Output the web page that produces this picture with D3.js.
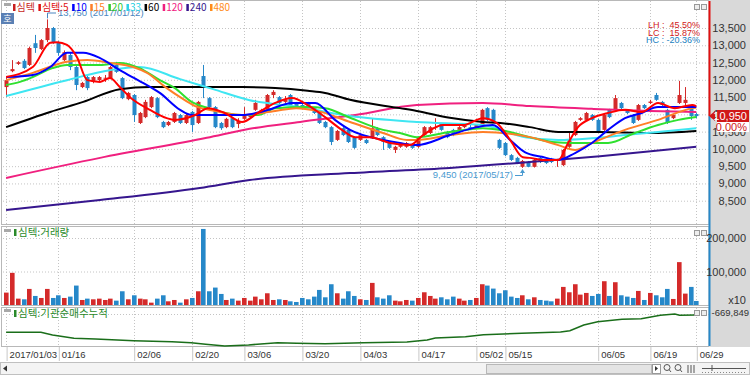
<!DOCTYPE html>
<html>
<head>
<meta charset="utf-8">
<script src="https://cdn.jsdelivr.net/npm/d3@7"></script>
<style>
body { margin: 0; background: #fff; }
svg text { font-family: "Liberation Sans", Arial, sans-serif; }
.kr { font-family: "Noto Sans CJK KR", sans-serif; }
</style>
</head>
<body>
<script>
// ---- data ----
var dateTickIdx = [0, 9, 22, 32, 41, 51, 61, 71, 81, 86, 102, 111, 119];
var dateTickLabels = ["2017/01/03", "01/16", "02/06", "02/20", "03/06", "03/20", "04/03", "04/17", "05/02", "05/15", "06/05", "06/19", "06/29"];

var open = [11790,12250,12460,12550,12430,13060,12890,13150,13500,13090,12570,12720,12370,11790,12080,11940,11990,12040,12050,12430,
  12050,11440,11560,10750,10920,11210,11470,10780,10690,10780,10980,10750,11070,10750,12110,11470,11210,10750,10630,10890,
  10720,10870,10920,11130,11040,11130,11560,11500,11360,11560,11330,11270,11330,11180,11070,10780,10630,10260,10600,10550,
  10320,10260,10260,10320,10600,10340,10170,9970,10060,10060,10140,10060,10400,10460,10610,10720,10490,10550,10550,10630,
  10630,10610,10690,11180,11130,10260,10170,9820,9740,9480,9620,9480,9740,9680,9710,9650,9530,10060,10400,10840,
  10840,10980,10840,10550,11130,11130,11330,11100,10980,10840,11270,11330,11560,11360,11130,10890,11330,11330,11180,11010];
var high = [12050,12570,12540,12600,12960,13300,13180,13750,13530,13120,12850,12780,12400,11940,12110,12110,12110,12140,12400,12520,
  12080,11650,11590,11070,11420,11530,11500,10810,10810,11070,11010,11010,11100,11390,12430,11500,11240,10780,10900,10920,
  10890,11210,11010,11420,11160,11590,11700,11530,11530,11590,11360,11300,11360,11210,11100,10810,10660,10550,10630,10580,
  10350,10430,10290,10870,10630,10370,10200,10090,10140,10200,10170,10350,10660,10660,10890,10750,10520,10580,10660,10720,
  10690,10720,11160,11210,11160,10290,10200,9850,9770,9680,9650,9710,9770,9710,9740,9710,10000,10460,10810,10920,
  11070,11010,10870,11010,11160,11560,11360,11130,11010,11300,11300,11420,11620,11390,11160,11010,11970,11790,11210,11040];
var low = [11500,12220,12430,12310,12400,12780,12860,13090,13040,12700,12540,12280,11700,11760,11700,11900,11960,11940,12020,12200,
  11440,11410,10780,10720,10890,11180,10890,10600,10660,10750,10720,10720,10490,10720,11470,11180,10600,10550,10600,10600,
  10600,10840,10890,11100,11010,11100,11470,11300,11330,11240,11180,11150,11150,11010,10720,10600,10110,10230,10370,10170,
  10000,10230,10140,10290,10370,9970,10000,9880,10030,10030,10000,10030,10370,10430,10550,10520,10310,10370,10520,10600,
  10550,10580,10660,10810,10750,10000,9790,9650,9560,9450,9470,9460,9590,9560,9590,9480,9500,10030,10370,10810,
  10810,10810,10460,10520,10890,11100,11150,11010,10720,10810,11150,11300,11390,11240,10720,10860,11300,11240,10840,10890];
var close = [11990,12310,12510,12340,12920,12920,13150,13500,13090,12780,12800,12370,11850,11910,11760,12080,12080,12060,12370,12230,
  11470,11620,10980,11040,11360,11500,10920,10630,10780,11040,10750,10980,10690,11360,11790,11210,10630,10600,10870,10630,
  10810,10950,10980,11330,11130,11560,11650,11330,11420,11270,11210,11180,11180,11040,10750,10630,10200,10520,10400,10200,
  10030,10400,10170,10600,10400,10200,10030,10060,10110,10170,10030,10320,10630,10630,10630,10550,10340,10400,10630,10690,
  10580,10690,11130,10840,10780,10030,9820,9680,9590,9650,9480,9680,9620,9590,9620,9680,9970,10260,10780,10890,
  11040,10840,10490,10980,10920,11470,11180,11040,10750,11270,11180,11370,11420,11270,10750,10980,11560,11420,10950,10950];
var volume = [37000,96000,19000,17000,48000,27000,21000,48000,21000,29000,21000,25000,58000,15000,19000,17000,19000,15000,19000,13000,
  41000,17000,29000,19000,17000,7000,19000,29000,11000,15000,7000,17000,21000,41000,227000,41000,52000,33000,15000,19000,
  13000,21000,13000,25000,17000,35000,15000,17000,15000,11000,9000,21000,17000,25000,45000,23000,62000,35000,19000,41000,
  27000,17000,15000,66000,23000,19000,29000,13000,11000,15000,13000,21000,38000,27000,19000,23000,17000,25000,19000,13000,
  15000,21000,62000,58000,49000,35000,44000,25000,21000,29000,17000,23000,15000,13000,11000,19000,54000,38000,62000,31000,
  36000,27000,33000,71000,27000,68000,29000,25000,21000,42000,15000,36000,29000,23000,48000,18000,128000,34000,54000,12000];

// moving averages, [day index, price]
var ma5 = [[0,12080],[4.6,12370],[7.6,13070],[8.8,13090],[10.5,13010],[12.2,12660],[14,11990],[16.2,11940],[17.9,12050],[19.6,11790],
  [21.9,11420],[24.8,11130],[27.7,10890],[29.1,10840],[32.6,10980],[34.8,11180],[37.7,11040],[40.7,10780],[43.4,11040],[46.4,11330],
  [49.3,11470],[52,11270],[55,10920],[57.9,10550],[60.2,10340],[62.7,10340],[66.2,10170],[69.6,10110],[71.9,10400],[75.3,10690],
  [78.8,10690],[82.2,10890],[84.6,10750],[86.9,10260],[89.1,9760],[90.3,9740],[92.4,9680],[95.2,9680],[96.9,10170],[98.6,10630],
  [101,10890],[103.8,11040],[106.7,11130],[109.6,11070],[112.4,11330],[115.3,11180],[118.3,11270],[119,11240]];
var ma10 = [[0,12080],[4.6,12140],[7.6,12370],[10.5,12780],[13.3,12780],[16.2,12630],[19.6,12280],[23.6,11910],[26.5,11620],[30,11130],
  [32,10980],[37.7,10980],[40.7,10980],[45.2,11130],[49.3,11330],[53.3,11330],[56.7,10840],[59.3,10550],[65,10260],[67.9,10170],
  [70.8,10110],[76.5,10400],[81.2,10630],[83.9,10690],[86.9,10260],[89.5,9900],[92.4,9770],[95.2,9680],[98.1,9880],[101,10170],
  [103.8,10550],[106.7,10890],[109.6,11040],[112.4,11210],[115.3,11210],[119,11210]];
var ma15 = [[0,11990],[4.6,12200],[10.5,12520],[14,12570],[17.9,12490],[21.9,12370],[24.3,12200],[27.7,11760],[30,11500],[32.6,11240],
  [36,11100],[40.7,10980],[46.4,11100],[50,11180],[53.6,11100],[59.3,10780],[65,10460],[69.1,10260],[70.8,10260],[76.5,10400],
  [82.2,10490],[90.3,10340],[95.2,10110],[98.1,9970],[101,10170],[106.7,10550],[112.4,10840],[118.3,11180],[119,11200]];
var ma20 = [[0,11850],[2.4,11940],[4.6,12080],[8,12340],[10.5,12430],[16.2,12430],[19.6,12490],[23,12340],[26.5,11990],[29.1,11760],
  [32,11360],[34.8,11180],[40.7,10980],[43.4,10980],[46.4,11180],[52,11210],[55,11180],[59.3,10900],[65,10550],[67.9,10460],
  [70.8,10340],[76.5,10490],[82.2,10600],[85.2,10550],[90.3,10340],[94.1,10200],[98.1,10170],[103.8,10170],[108.4,10460],[112.4,10690],
  [115.9,10840],[119,10920]];
var ma33 = [[0,11530],[10.5,11990],[17.9,12280],[23,12370],[30,12020],[35.7,11730],[42,11410],[50.7,11210],[59.3,10950],[70.8,10780],
  [82.2,10690],[89.5,10340],[95.2,10260],[101,10310],[106.7,10400],[112.4,10490],[119,10600]];
var ma60 = [[0,10630],[7.6,11070],[13.3,11360],[19.6,11730],[24.8,11790],[30,11790],[40.7,11790],[46.4,11760],[52,11680],[55,11620],
  [59.3,11420],[67.9,11180],[70.8,11100],[76.5,10900],[82.2,10780],[85.2,10750],[90.3,10630],[95.2,10490],[102.4,10490],[111,10460],[119,10520]];
var ma120 = [[0,9160],[16.2,9740],[34.6,10320],[42,10580],[50.7,10780],[60.2,10980],[70.8,11270],[82.2,11330],[90.3,11240],[101,11160],[111,11100],[119,11070]];
var ma240 = [[0,8230],[16.2,8520],[33.4,8870],[42,9100],[59.3,9300],[76.5,9450],[90.3,9620],[102.4,9790],[119,10060]];

// 기관순매수누적, [day index, shares]
var instCum = [[0,-1535000],[6,-1535000],[8,-1670000],[11.7,-1835000],[15.4,-1870000],[22,-1955000],[28.6,-2005000],[31.9,-2055000],
  [34.4,-2135000],[37.7,-2220000],[41.8,-2170000],[46.8,-2055000],[50.1,-2085000],[55,-2105000],[61.6,-2055000],[69.1,-2020000],
  [72.6,-1920000],[74,-1820000],[79.2,-1755000],[82.3,-1655000],[88.9,-1585000],[95.6,-1520000],[97.2,-1455000],[99.6,-1170000],
  [102,-1005000],[106.2,-885000],[109.5,-855000],[112.8,-685000],[115.3,-620000],[116.1,-685000],[119,-669849]];

var priceTicks = [8500, 9000, 9500, 10000, 10500, 11000, 11500, 12000, 12500, 13000, 13500];
var volumeTicks = [100000, 200000];
var legendNames = ["심텍", "심텍:5", "10", "15", "20", "33", "60", "120", "240", "480"];
var lastPrice = 10950;

// ---- drawing ----
var W = 750, H = 375;
var plotL = 3, plotR = 709, axisR = 746;
var svg = d3.select("body").append("svg").attr("width", W).attr("height", H);

var x = d3.scaleLinear().domain([0, 119]).range([6.1, 696.3]);
var yP = d3.scaleLinear().domain([8500, 13500]).range([200.7, 28]);
var yV = d3.scaleLinear().domain([0, 200000]).range([305, 238]);
var yI = d3.scaleLinear().domain([-2269849, -669849]).range([347, 315]);

var UP = "#d42a2a", DN = "#2688c9";
var lineColors = {ma5: "#ff0000", ma10: "#0000ff", ma15: "#ff7f27", ma20: "#2fe02f", ma33: "#3fe6f2",
  ma60: "#000000", ma120: "#f0207f", ma240: "#36168e"};
var legendColors = ["#c81e1e", "#e01010", "#0000ff", "#ff7f27", "#2fc82f", "#2ad2e6", "#000000", "#f0207f", "#36168e", "#ff8c1a"];

// right axis background
svg.append("rect").attr("x", plotR + 1).attr("y", 0).attr("width", W - plotR).attr("height", 347).attr("fill", "#d9d9d9");

// panel frames
var panels = [[0, 224], [226, 305], [307, 346]];
panels.forEach(function(p) {
  svg.append("rect").attr("x", plotL - 1.5).attr("y", p[0] + 0.5).attr("width", plotR - plotL + 1.5).attr("height", p[1] - p[0])
    .attr("fill", "#fff").attr("stroke", "#b8b8b8");
});

// vertical dotted grid
var vgrid = svg.append("g");
panels.forEach(function(p) {
  vgrid.selectAll(null).data(dateTickIdx).join("line")
    .attr("x1", function(d) { return Math.round(x(d)) + 0.5; })
    .attr("x2", function(d) { return Math.round(x(d)) + 0.5; })
    .attr("y1", p[0] + 1).attr("y2", p[1])
    .attr("stroke", "#c4c4c4").attr("stroke-dasharray", "1,2");
});

// horizontal dotted grid (price and volume)
var pg = svg.append("g").attr("transform", "translate(" + plotL + ",0)")
  .call(d3.axisRight(yP).tickValues(priceTicks).tickSize(plotR - plotL).tickFormat(""));
pg.select(".domain").remove();
pg.selectAll("line").attr("stroke", "#c4c4c4").attr("stroke-dasharray", "1,2");
var vg = svg.append("g").attr("transform", "translate(" + plotL + ",0)")
  .call(d3.axisRight(yV).tickValues(volumeTicks).tickSize(plotR - plotL).tickFormat(""));
vg.select(".domain").remove();
vg.selectAll("line").attr("stroke", "#c4c4c4").attr("stroke-dasharray", "1,2");
svg.append("line").attr("x1", plotL).attr("x2", plotR).attr("y1", 314.5).attr("y2", 314.5)
  .attr("stroke", "#c4c4c4").attr("stroke-dasharray", "1,2");

// clip for price panel
svg.append("clipPath").attr("id", "cp").append("rect").attr("x", plotL).attr("y", 1).attr("width", plotR - plotL).attr("height", 223);
var gP = svg.append("g").attr("clip-path", "url(#cp)");

var days = d3.range(open.length);
function col(i) { return close[i] >= open[i] ? UP : DN; }
function cx(i) { return Math.round(x(i)); }

// candles
gP.append("g").selectAll("line").data(days).join("line")
  .attr("x1", function(i) { return cx(i) + 0.5; }).attr("x2", function(i) { return cx(i) + 0.5; })
  .attr("y1", function(i) { return yP(high[i]); }).attr("y2", function(i) { return yP(low[i]); })
  .attr("stroke", col);
gP.append("g").selectAll("rect").data(days).join("rect")
  .attr("x", function(i) { return cx(i) - 1.5; }).attr("width", 4)
  .attr("y", function(i) { return yP(Math.max(open[i], close[i])); })
  .attr("height", function(i) { return Math.max(1, Math.abs(yP(open[i]) - yP(close[i]))); })
  .attr("fill", col);

// moving averages
var maLine = d3.line().x(function(d) { return x(d[0]); }).y(function(d) { return yP(d[1]); }).curve(d3.curveMonotoneX);
[["ma240", ma240], ["ma120", ma120], ["ma60", ma60], ["ma33", ma33], ["ma20", ma20], ["ma15", ma15], ["ma10", ma10], ["ma5", ma5]]
  .forEach(function(s) {
    gP.append("path").datum(s[1]).attr("d", maLine).attr("fill", "none")
      .attr("stroke", lineColors[s[0]]).attr("stroke-width", 2);
  });

// volume bars
svg.append("g").selectAll("rect").data(days).join("rect")
  .attr("x", function(i) { return cx(i) - 2; }).attr("width", 4.6)
  .attr("y", function(i) { return yV(volume[i]); })
  .attr("height", function(i) { return yV(0) - yV(volume[i]); })
  .attr("fill", col);

// institution cumulative net buy
svg.append("path").datum(instCum)
  .attr("d", d3.line().x(function(d) { return x(d[0]); }).y(function(d) { return yI(d[1]); }))
  .attr("fill", "none").attr("stroke", "#1a6e1a").attr("stroke-width", 1.6);

// plot / axis border line
svg.append("line").attr("x1", plotR + 0.5).attr("x2", plotR + 0.5).attr("y1", 1).attr("y2", yP(lastPrice)).attr("stroke", "#e01010").attr("stroke-width", 2);
svg.append("line").attr("x1", plotR + 0.5).attr("x2", plotR + 0.5).attr("y1", yP(lastPrice)).attr("y2", 346).attr("stroke", "#2688c9").attr("stroke-width", 2);

// right price axis
var pa = svg.append("g").attr("transform", "translate(" + axisR + ",0)")
  .call(d3.axisLeft(yP).tickValues(priceTicks).tickSize(0).tickPadding(0).tickFormat(d3.format(",")));
pa.select(".domain").remove();
pa.selectAll("text").attr("font-size", 11).attr("fill", "#333").style("font-family", "Liberation Sans, Arial");

var va = svg.append("g").attr("transform", "translate(" + axisR + ",0)")
  .call(d3.axisLeft(yV).tickValues(volumeTicks).tickSize(0).tickPadding(0).tickFormat(d3.format(",")));
va.select(".domain").remove();
va.selectAll("text").attr("font-size", 11).attr("fill", "#333").style("font-family", "Liberation Sans, Arial");
svg.append("text").attr("x", axisR).attr("y", 304).attr("text-anchor", "end").attr("font-size", 11).attr("fill", "#333").text("x10");
svg.append("text").attr("x", 749).attr("y", yI(-669849) + 1).attr("text-anchor", "end").attr("font-size", 9.5).attr("fill", "#333")
  .text(d3.format(",")(instCum[instCum.length - 1][1]).replace("−", "-"));

// current price box
var yc = Math.round(yP(lastPrice));
svg.append("path").attr("d", "M" + (plotR) + "," + yc + "L" + (plotR + 6) + "," + (yc - 5) + "L" + (plotR + 6) + "," + (yc + 5) + "Z").attr("fill", "#d01818");
svg.append("rect").attr("x", 717).attr("y", yc - 6).attr("width", 32).attr("height", 12).attr("fill", "#d01818");
svg.append("text").attr("x", axisR + 1).attr("y", yc + 4).attr("text-anchor", "end").attr("font-size", 11).attr("fill", "#fff").text(d3.format(",")(lastPrice));
svg.append("rect").attr("x", 717).attr("y", yc + 6).attr("width", 32).attr("height", 10).attr("fill", "#fff");
svg.append("text").attr("x", axisR + 1).attr("y", yc + 15).attr("text-anchor", "end").attr("font-size", 11).attr("fill", "#d01818").text("0.00%");

// LH / LC / HC
var hiP = d3.max(high), loP = d3.min(low);
var stats = [["LH :  ", (hiP / loP - 1) * 100, "#d02020"], ["LC :  ", (lastPrice / loP - 1) * 100, "#d02020"], ["HC : ", (lastPrice / hiP - 1) * 100, "#2080c0"]];
stats.forEach(function(s, k) {
  svg.append("text").attr("x", 700).attr("y", 28 + k * 7.5).attr("text-anchor", "end").attr("font-size", 9)
    .attr("fill", s[2]).attr("xml:space", "preserve").text(s[0] + s[1].toFixed(2) + "%");
});

// high / low annotations
var iHi = high.indexOf(hiP), iLo = low.indexOf(loP);
svg.append("path").attr("d", "M" + (cx(iHi) + 0.5) + "," + (yP(hiP) - 1) + "V13H" + 56).attr("fill", "none").attr("stroke", "#4a86c0");
svg.append("text").attr("x", 58).attr("y", 16).attr("font-size", 9.5).attr("fill", "#4a86c0").text("13,750 (2017/01/12)");
svg.append("path").attr("d", "M515,175.5H" + (cx(iLo) + 0.5) + "V" + (yP(loP) + 2)).attr("fill", "none").attr("stroke", "#4a9ad0");
svg.append("path").attr("d", "M" + (cx(iLo) + 0.5) + "," + (yP(loP) + 1) + "l-2.5,4h5z").attr("fill", "#4a9ad0");
svg.append("text").attr("x", 513).attr("y", 178).attr("text-anchor", "end").attr("font-size", 9.5).attr("fill", "#4a9ad0").text("9,450 (2017/05/17)");

// legend
var lx = 13;
legendNames.forEach(function(n, k) {
  svg.append("rect").attr("x", lx).attr("y", 4).attr("width", 2.5).attr("height", 7).attr("fill", legendColors[k]);
  var t = svg.append("text").attr("class", "kr").attr("x", lx + 3.5).attr("y", 11).attr("font-size", 10)
    .attr("fill", legendColors[k]).text(n);
  lx += 3.5 + t.node().getComputedTextLength() + 3.5;
});

// panel icons and captions
[[2, 3], [228, 229], [308, 309]].forEach(function(p) {
  svg.append("rect").attr("x", 4).attr("y", p[1]).attr("width", 7).attr("height", 3).attr("fill", "#a8a8a8");
  svg.append("rect").attr("x", 694.5).attr("y", p[1] + 1.5).attr("width", 5).attr("height", 5).attr("fill", "#eee").attr("stroke", "#999");
  svg.append("rect").attr("x", 701.5).attr("y", p[1] + 1.5).attr("width", 5).attr("height", 5).attr("fill", "#eee").attr("stroke", "#999");
});
svg.append("rect").attr("x", 1).attr("y", 13).attr("width", 13).attr("height", 11).attr("fill", "#5b80b4");
svg.append("text").attr("class", "kr").attr("x", 7.5).attr("y", 22).attr("text-anchor", "middle").attr("font-size", 9).attr("fill", "#fff").text("호");
[["심텍:거래량", 236], ["심텍:기관순매수누적", 317]].forEach(function(c) {
  svg.append("rect").attr("x", 14).attr("y", c[1] - 7).attr("width", 2.5).attr("height", 7).attr("fill", "#2a8a2a");
  svg.append("text").attr("class", "kr").attr("x", 18).attr("y", c[1]).attr("font-size", 10.5).attr("fill", "#2a8a2a").text(c[0]);
});

// date axis
var da = svg.append("g").attr("transform", "translate(0,347)")
  .call(d3.axisBottom(x).tickValues(dateTickIdx).tickSize(14).tickFormat(function(d, k) { return dateTickLabels[k]; }));
da.select(".domain").remove();
da.selectAll("line").attr("stroke", "#c8c8c8").attr("transform", function() { return "translate(0.5,0)"; });
da.selectAll("text").attr("text-anchor", "start").attr("dx", 3).attr("y", 4).attr("font-size", 9.5).attr("fill", "#333");

// scrollbar row
svg.append("rect").attr("x", 0.5).attr("y", 362.5).attr("width", 749).attr("height", 12).attr("fill", "#f4f4f4").attr("stroke", "#c0c0c0");
svg.append("path").attr("d", "M3,368.5l4,-3v6z").attr("fill", "#333");
svg.append("rect").attr("x", 486.5).attr("y", 364.5).attr("width", 165).attr("height", 9).attr("fill", "#e4e4e4").attr("stroke", "#b8b8b8");
svg.append("rect").attr("x", 652.5).attr("y", 364.5).attr("width", 8).attr("height", 9).attr("fill", "#fff").attr("stroke", "#999");
svg.append("path").attr("d", "M655,366l3,2.5l-3,2.5z").attr("fill", "#333");
[667, 678].forEach(function(cxx) {
  svg.append("circle").attr("cx", cxx).attr("cy", 367.5).attr("r", 3).attr("fill", "none").attr("stroke", "#555");
  svg.append("line").attr("x1", cxx + 2).attr("y1", 369.5).attr("x2", cxx + 4).attr("y2", 372).attr("stroke", "#555");
});
svg.append("path").attr("d", "M688,365v8M691,365v8M694,365v8").attr("stroke", "#555");
svg.append("path").attr("d", "M702,368.5h44M712,365v6").attr("stroke", "#555");
svg.append("path").attr("d", "M702,372.5h44").attr("stroke", "#888").attr("stroke-dasharray", "1,2");
</script>
</body>
</html>
